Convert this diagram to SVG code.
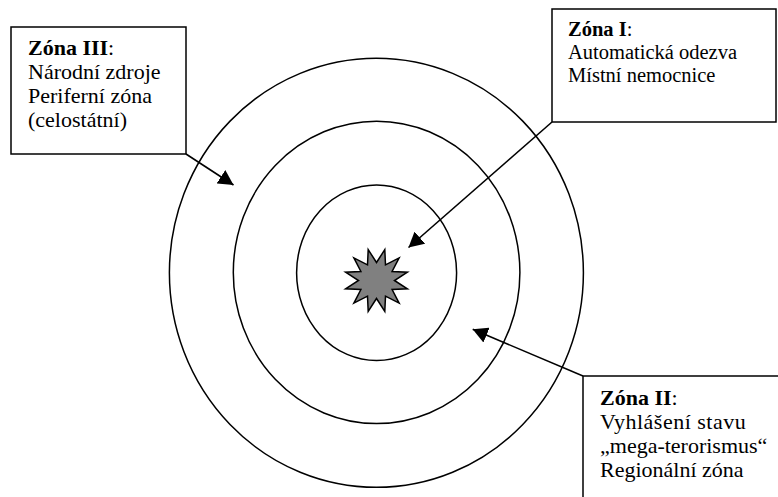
<svg xmlns="http://www.w3.org/2000/svg" width="778" height="497" viewBox="0 0 778 497">
<style>
.ring{fill:none;stroke:#000;stroke-width:1.5}
.box{fill:#fff;stroke:#000;stroke-width:1.5}
.lbl{font-family:"Liberation Serif","Times New Roman",serif;font-size:22px;fill:#000}
.sm{font-size:20.5px}
.b{font-weight:bold}
.conn{stroke:#000;stroke-width:1.6;fill:none;marker-end:url(#ah)}
</style>
<defs>
<marker id="ah" viewBox="0 0 15 16" refX="15" refY="8" markerWidth="15" markerHeight="16" markerUnits="userSpaceOnUse" orient="auto">
<path d="M0,0 L15,8 L0,16 z" fill="#000"/>
</marker>
</defs>
<rect width="778" height="497" fill="#fff"/>
<g id="rings">
<ellipse class="ring" cx="376.4" cy="272.8" rx="207" ry="214.5"/>
<ellipse class="ring" cx="376.6" cy="272.4" rx="143.3" ry="151.2"/>
<ellipse class="ring" cx="376.6" cy="272.8" rx="80" ry="87.8"/>
</g>
<g id="star">
<path d="M394.5,280.5 L407.4,288.8 L392.1,289.5 L399.1,303.1 L385.5,296.1 L384.8,311.4 L376.5,298.5 L368.2,311.4 L367.5,296.1 L353.9,303.1 L360.9,289.5 L345.6,288.8 L358.5,280.5 L345.6,272.2 L360.9,271.5 L353.9,257.9 L367.5,264.9 L368.2,249.6 L376.5,262.5 L384.8,249.6 L385.5,264.9 L399.1,257.9 L392.1,271.5 L407.4,272.2 Z" fill="#808080" stroke="#000" stroke-width="1.5" stroke-linejoin="miter"/>
</g>
<g id="zona3">
<rect class="box" x="11" y="27" width="175" height="127"/>
<text class="lbl" x="28" y="55"><tspan class="b">Zóna III</tspan>:</text>
<text class="lbl" x="28" y="79">Národní zdroje</text>
<text class="lbl" x="28" y="103">Periferní zóna</text>
<text class="lbl" x="28" y="127">(celostátní)</text>
</g>
<g id="zona1">
<rect class="box" x="552" y="9" width="224" height="113"/>
<text class="lbl sm" x="568" y="36"><tspan class="b">Zóna I</tspan>:</text>
<text class="lbl sm" x="568" y="59">Automatická odezva</text>
<text class="lbl sm" x="568" y="82">Místní nemocnice</text>
</g>
<g id="zona2">
<rect class="box" x="583" y="376" width="200" height="130"/>
<text class="lbl" x="600" y="405"><tspan class="b">Zóna II</tspan>:</text>
<text class="lbl" x="600" y="429" letter-spacing="0.5">Vyhlášení stavu</text>
<text class="lbl" x="600" y="453" font-size="21px">„mega-terorismus“</text>
<text class="lbl" x="600" y="477">Regionální zóna</text>
</g>
<g id="connectors">
<line class="conn" x1="186" y1="154" x2="233.5" y2="185"/>
<line class="conn" x1="552" y1="122" x2="408.5" y2="247.5"/>
<line class="conn" x1="583" y1="376" x2="472.7" y2="329.3"/>
</g>
</svg>
